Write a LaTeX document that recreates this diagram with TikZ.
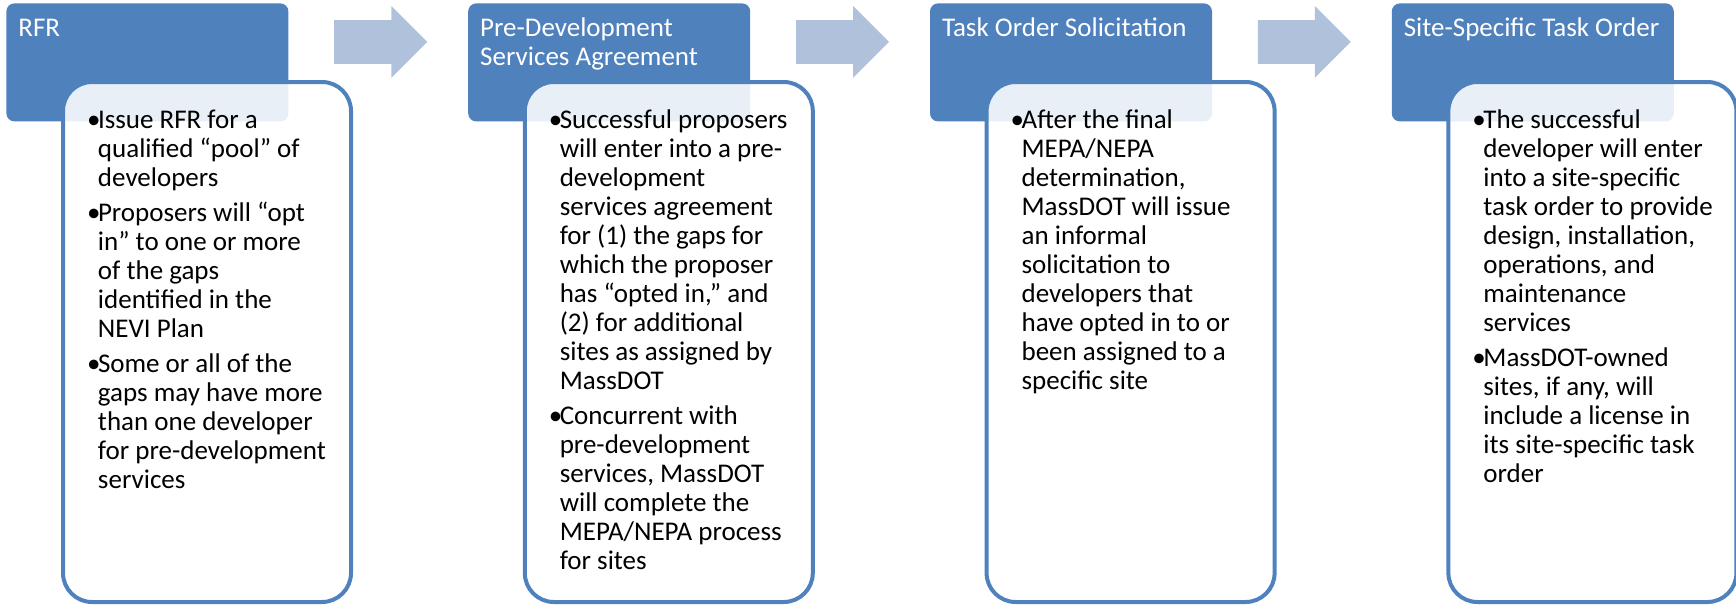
\documentclass[tikz,border=0pt]{standalone}
\usepackage{fontspec}
\setmainfont{Carlito}
\usetikzlibrary{shapes.arrows, positioning}

\definecolor{hdrblue}{RGB}{79,129,189}
\definecolor{flowblue}{RGB}{176,193,220}

\newcommand{\hdrtext}[1]{\parbox[c][51pt][t]{129pt}{\raggedright\let\\\newline
  \fontsize{13.5}{14.5}\selectfont\lineskiplimit=-10pt\rule{0pt}{12.5pt}#1}}
\newcommand{\bodytext}[1]{\parbox[c][241pt][t]{134pt}{\raggedright\let\\\newline
  \fontsize{13.5}{14.5}\selectfont\lineskiplimit=-10pt
  \parskip=3pt\leftskip=7pt
  \def\topstrut{\rule{0pt}{13.5pt}}#1}}
\newcommand{\bul}[1]{\hangindent=5.5pt\hangafter=1\noindent\topstrut
  \makebox[5.5pt][l]{\textbullet}#1\par\let\topstrut\relax}

\begin{document}
\begin{tikzpicture}[
  hdr/.style={fill=hdrblue, rounded corners=4pt, text=white,
              inner xsep=6pt, inner ysep=4pt},
  body/.style={draw=hdrblue, line width=2pt, rounded corners=14.5pt,
               fill=white, fill opacity=0.88, text opacity=1,
               inner xsep=5pt, inner ysep=9.5pt},
  flow/.style={single arrow, fill=flowblue, minimum height=46.5pt,
               single arrow head extend=7pt,
               inner xsep=0pt, inner ysep=10.75pt},
]
\useasboundingbox (0,0) rectangle (868pt,-302.5pt);

% header boxes
\node[hdr, anchor=north west] (h1) at (3pt,-1.5pt) {\hdrtext{RFR}};
\node[hdr, right=89.5pt of h1] (h2) {\hdrtext{Pre-Development\\Services Agreement}};
\node[hdr, right=89.5pt of h2] (h3) {\hdrtext{Task Order Solicitation}};
\node[hdr, right=89.5pt of h3] (h4) {\hdrtext{Site-Specific Task Order}};

% arrows between steps
\node[flow, right=22.5pt of h1.east, yshift=10.25pt] (a1) {};
\node[flow, right=22.5pt of h2.east, yshift=10.25pt] (a2) {};
\node[flow, right=22.5pt of h3.east, yshift=10.25pt] (a3) {};

% detail boxes
\node[body, below right=38.5pt and 27.5pt of h1.north west] (b1) {\bodytext{%
  \bul{Issue RFR for a\\qualified “pool” of\\developers}
  \bul{Proposers will “opt\\in” to one or more\\of the gaps\\identified in the\\NEVI Plan}
  \bul{Some or all of the\\gaps may have more\\than one developer\\for pre-development\\services}}};
\node[body, below right=38.5pt and 27.5pt of h2.north west] (b2) {\bodytext{%
  \bul{Successful proposers\\will enter into a pre-\\development\\services agreement\\for (1) the gaps for\\which the proposer\\has “opted in,” and\\(2) for additional\\sites as assigned by\\MassDOT}
  \bul{Concurrent with\\pre-development\\services, MassDOT\\will complete the\\MEPA/NEPA process\\for sites}}};
\node[body, below right=38.5pt and 27.5pt of h3.north west] (b3) {\bodytext{%
  \bul{After the final\\MEPA/NEPA\\determination,\\MassDOT will issue\\an informal\\solicitation to\\developers that\\have opted in to or\\been assigned to a\\specific site}}};
\node[body, below right=38.5pt and 27.5pt of h4.north west] (b4) {\bodytext{%
  \bul{The successful\\developer will enter\\into a site-specific\\task order to provide\\design, installation,\\operations, and\\maintenance\\services}
  \bul{MassDOT-owned\\sites, if any, will\\include a license in\\its site-specific task\\order}}};
\end{tikzpicture}
\end{document}
